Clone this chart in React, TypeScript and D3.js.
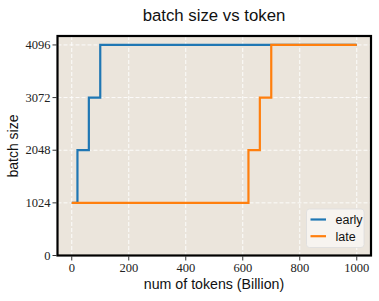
import React from "react";
import * as d3 from "d3";

const earlyTokens = [0, 20, 60, 100, 1000];
const earlyBatch = [1024, 2048, 3072, 4096, 4096];
const lateTokens = [0, 620, 660, 700, 1000];
const lateBatch = [1024, 2048, 3072, 4096, 4096];
const xTicks = [0, 200, 400, 600, 800, 1000];
const yTicks = [0, 1024, 2048, 3072, 4096];
const seriesNames = ["early", "late"];
const seriesColors = ["#1f77b4", "#ff7f0e"];

const W = 379;
const H = 301;
const L = 57.5, R = 371, T = 36, B = 255.5;

export default function App() {
  const x = d3.scaleLinear().domain([-50, 1050]).range([L, R]);
  const y = d3.scaleLinear().domain([0, 4270]).range([B, T]);
  const line = d3
    .line<[number, number]>()
    .x((d) => x(d[0]))
    .y((d) => y(d[1]))
    .curve(d3.curveStepAfter);
  const series = [
    earlyTokens.map((t, i) => [t, earlyBatch[i]] as [number, number]),
    lateTokens.map((t, i) => [t, lateBatch[i]] as [number, number]),
  ];
  const serif = "'Liberation Serif', serif";
  const sans = "'Liberation Sans', 'DejaVu Sans', sans-serif";
  return (
    <svg
      width={W}
      height={H}
      style={{ position: "absolute", left: 0, top: 0, background: "#fff" }}
    >
      <rect x={L} y={T} width={R - L} height={B - T} fill="#ebe5dc" />
      {xTicks.map((t) => (
        <line key={"gx" + t} x1={x(t)} x2={x(t)} y1={T} y2={B} stroke="#fff" strokeWidth={1} strokeDasharray="4,2" opacity={0.9} />
      ))}
      {yTicks.map((t) => (
        <line key={"gy" + t} x1={L} x2={R} y1={y(t)} y2={y(t)} stroke="#fff" strokeWidth={1} strokeDasharray="4,2" opacity={0.9} />
      ))}
      {series.map((s, i) => (
        <path key={i} d={line(s) || ""} fill="none" stroke={seriesColors[i]} strokeWidth={2.2} />
      ))}
      <rect x={L} y={T} width={R - L} height={B - T} fill="none" stroke="#000" strokeWidth={2.2} />
      {xTicks.map((t) => (
        <g key={"tx" + t}>
          <line x1={x(t)} x2={x(t)} y1={B + 1} y2={B + 5} stroke="#000" strokeWidth={0.8} />
          <text x={x(t)} y={272} textAnchor="middle" fontFamily={serif} fontSize={12.5} fill="#222">
            {t}
          </text>
        </g>
      ))}
      {yTicks.map((t) => (
        <g key={"ty" + t}>
          <line x1={L - 1} x2={L - 5} y1={y(t)} y2={y(t)} stroke="#000" strokeWidth={0.8} />
          <text x={50.5} y={y(t)} dy="0.33em" textAnchor="end" fontFamily={serif} fontSize={12.5} fill="#222">
            {t}
          </text>
        </g>
      ))}
      <text x={214} y={20.5} textAnchor="middle" fontFamily={sans} fontSize={16.8} fill="#111">
        batch size vs token
      </text>
      <text x={214} y={288.5} textAnchor="middle" fontFamily={sans} fontSize={14.2} fill="#111">
        num of tokens (Billion)
      </text>
      <text
        transform={`translate(18,146) rotate(-90)`}
        textAnchor="middle"
        fontFamily={sans}
        fontSize={14}
        fill="#111"
      >
        batch size
      </text>
      <rect x={306.5} y={209} width={57.5} height={38.5} rx={3} fill="#f7f4f0" stroke="#dddddd" strokeWidth={0.8} />
      {seriesNames.map((n, i) => (
        <g key={n}>
          <line x1={310.5} x2={326} y1={219.5 + i * 16.7} y2={219.5 + i * 16.7} stroke={seriesColors[i]} strokeWidth={2.2} />
          <text x={335.5} y={219.5 + i * 16.7} dy="0.35em" fontFamily={sans} fontSize={12.5} fill="#111">
            {n}
          </text>
        </g>
      ))}
    </svg>
  );
}
